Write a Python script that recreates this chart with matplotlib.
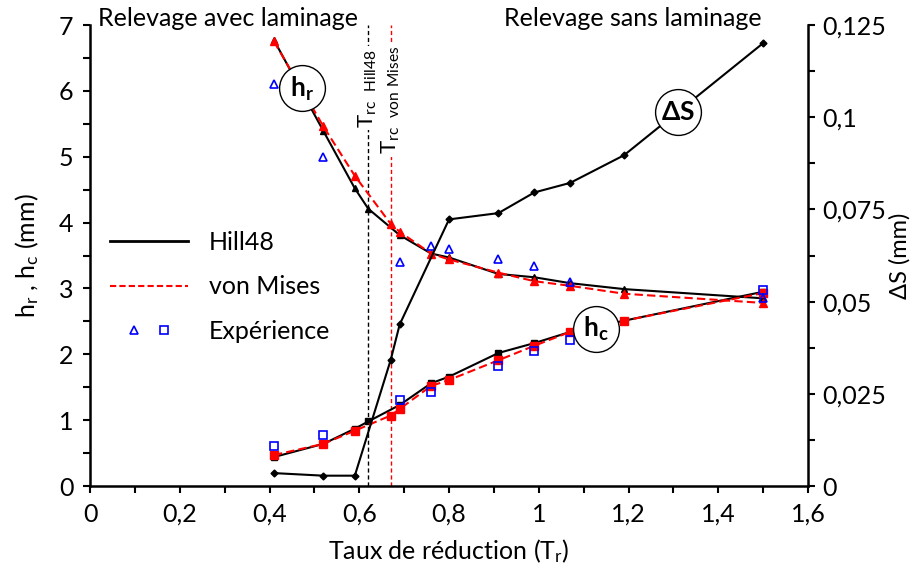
import matplotlib
matplotlib.use("Agg")
import matplotlib.pyplot as plt
from matplotlib.lines import Line2D
from matplotlib.legend_handler import HandlerTuple
from matplotlib.ticker import FuncFormatter, MultipleLocator

plt.rcParams["font.family"] = ["Lato", "DejaVu Sans"]
plt.rcParams["mathtext.fontset"] = "custom"
plt.rcParams["mathtext.rm"] = "Lato"
plt.rcParams["mathtext.bf"] = "Lato:bold"
plt.rcParams["mathtext.default"] = "rm"

# Hill48 model
x_hill = [0.41, 0.52, 0.59, 0.62, 0.69, 0.76, 0.80, 0.91, 0.99, 1.07, 1.19, 1.50]
hr_hill = [6.77, 5.39, 4.52, 4.21, 3.81, 3.53, 3.47, 3.22, 3.17, 3.08, 2.99, 2.85]
hc_hill = [0.44, 0.64, 0.87, 0.98, 1.23, 1.56, 1.66, 2.02, 2.17, 2.34, 2.51, 2.95]

# von Mises model
x_vm = [0.41, 0.52, 0.59, 0.67, 0.69, 0.76, 0.80, 0.91, 0.99, 1.07, 1.19, 1.50]
hr_vm = [6.75, 5.46, 4.71, 3.98, 3.86, 3.53, 3.44, 3.24, 3.11, 3.04, 2.92, 2.78]
hc_vm = [0.47, 0.64, 0.84, 1.07, 1.17, 1.52, 1.61, 1.91, 2.13, 2.34, 2.51, 2.93]

# springback difference (right axis)
x_ds = [0.41, 0.52, 0.59, 0.67, 0.69, 0.80, 0.91, 0.99, 1.07, 1.19, 1.50]
ds = [0.0035, 0.0028, 0.0028, 0.0342, 0.0438, 0.0723, 0.0740, 0.0796, 0.0822, 0.0897, 0.1201]

# measurements
x_exp_r = [0.41, 0.52, 0.69, 0.76, 0.80, 0.91, 0.99, 1.07, 1.50]
hr_exp = [6.10, 5.00, 3.40, 3.65, 3.60, 3.44, 3.34, 3.10, 2.85]
x_exp_c = [0.41, 0.52, 0.69, 0.76, 0.91, 0.99, 1.07, 1.50]
hc_exp = [0.61, 0.77, 1.31, 1.42, 1.82, 2.05, 2.22, 2.98]

trc_hill = 0.62
trc_vm = 0.67

fs = 18
fig = plt.figure(figsize=(9.14, 5.74), dpi=100)
ax = fig.add_axes([0.0985, 0.1533, 0.7856, 0.8031])
ax2 = ax.twinx()

blue = "#0000ff"
red = "#ff0000"

ax.plot(x_hill, hr_hill, color="black", lw=1.5, marker="^", ms=5, zorder=3)
ax.plot(x_hill, hc_hill, color="black", lw=1.5, marker="s", ms=5, zorder=3)
ax.plot(x_vm, hr_vm, color=red, lw=1.5, ls=(0, (4, 2)), marker="^", ms=6, zorder=4)
ax.plot(x_vm, hc_vm, color=red, lw=1.5, ls=(0, (4, 2)), marker="s", ms=6, zorder=4)
ax.plot(x_exp_r, hr_exp, ls="none", marker="^", ms=6, mfc="none", mec=blue, mew=1.2, zorder=5)
ax.plot(x_exp_c, hc_exp, ls="none", marker="s", ms=6, mfc="none", mec=blue, mew=1.2, zorder=5)

# critical reduction ratios
ax.axvline(trc_hill, color="black", lw=1, ls=(0, (3, 2)), zorder=2)
ax.axvline(trc_vm, color=red, lw=1, ls=(0, (3, 2)), zorder=2)
ax.text(trc_hill, 6.04, r"T$_{\mathrm{rc\ \ Hill48}}$", rotation=90, ha="center", va="center",
        fontsize=16, bbox=dict(facecolor="white", edgecolor="none", pad=2), zorder=6)
ax.text(trc_vm, 5.86, r"T$_{\mathrm{rc\ \ von\ Mises}}$", rotation=90, ha="center", va="center",
        fontsize=16, bbox=dict(facecolor="white", edgecolor="none", pad=2), zorder=6)

ax2.plot(x_ds, ds, color="black", lw=1.5, marker="D", ms=3.5, zorder=3)

# circled curve tags
for cx, cy, lab in [(0.472, 0.1078, r"$\mathbf{h_r}$"),
                    (1.310, 0.1014, r"$\mathbf{\Delta S}$"),
                    (1.127, 0.04257, r"$\mathbf{h_c}$")]:
    ax2.plot([cx], [cy], marker="o", ms=33, mfc="white", mec="black", mew=1, zorder=8)
    ax2.text(cx, cy, lab, ha="center", va="center", fontsize=fs + 1, zorder=9)

ax.set_xlim(0, 1.6)
ax.set_ylim(0, 7)
ax2.set_ylim(0, 0.125)
ax.set_xticks([0, 0.2, 0.4, 0.6, 0.8, 1.0, 1.2, 1.4, 1.6])
ax.xaxis.set_minor_locator(MultipleLocator(0.1))
ax.set_yticks(range(8))
ax.yaxis.set_minor_locator(MultipleLocator(0.5))
ax2.set_yticks([0, 0.025, 0.05, 0.075, 0.1, 0.125])
ax2.yaxis.set_minor_locator(MultipleLocator(0.0125))

comma = FuncFormatter(lambda v, p: f"{v:g}".replace(".", ","))
ax.xaxis.set_major_formatter(comma)
ax.yaxis.set_major_formatter(comma)
ax2.yaxis.set_major_formatter(comma)

for a in (ax, ax2):
    a.spines["top"].set_visible(False)
    for s in a.spines.values():
        s.set_linewidth(1.8)
    a.tick_params(which="both", direction="out", length=5, width=1.5, labelsize=fs)
ax.tick_params(axis="x", pad=7)
ax.tick_params(axis="y", pad=7)
ax2.tick_params(axis="y", pad=5)
ax.spines["right"].set_visible(False)
ax2.spines["left"].set_visible(False)
ax2.spines["bottom"].set_visible(False)

ax.set_xlabel(r"Taux de réduction (T$_r$)", fontsize=fs, labelpad=8)
ax.set_ylabel(r"h$_r$ , h$_c$ (mm)", fontsize=fs, labelpad=13)
ax2.set_ylabel(r"ΔS (mm)", fontsize=17, labelpad=2)

ax.text(0.011, 1.015, "Relevage avec laminage", transform=ax.transAxes, fontsize=fs, va="center")
ax.text(0.935, 1.015, "Relevage sans laminage", transform=ax.transAxes, fontsize=fs, va="center", ha="right")

handles = [
    Line2D([], [], color="black", lw=2),
    Line2D([], [], color=red, lw=1.5, ls=(0, (3, 1.5))),
    (Line2D([], [], ls="none", marker="^", ms=6, mfc="none", mec=blue, mew=1.2),
     Line2D([], [], ls="none", marker="s", ms=6, mfc="none", mec=blue, mew=1.2)),
]
ax.legend(handles, ["Hill48", "von Mises", "Expérience"], loc="upper left",
          bbox_to_anchor=(0.028, 0.553), frameon=False, fontsize=fs, handlelength=3.1,
          handletextpad=0.84, labelspacing=0.85, borderpad=0, borderaxespad=0,
          handler_map={tuple: HandlerTuple(ndivide=None, pad=-0.76)})

fig.savefig("out.png", dpi=100)
